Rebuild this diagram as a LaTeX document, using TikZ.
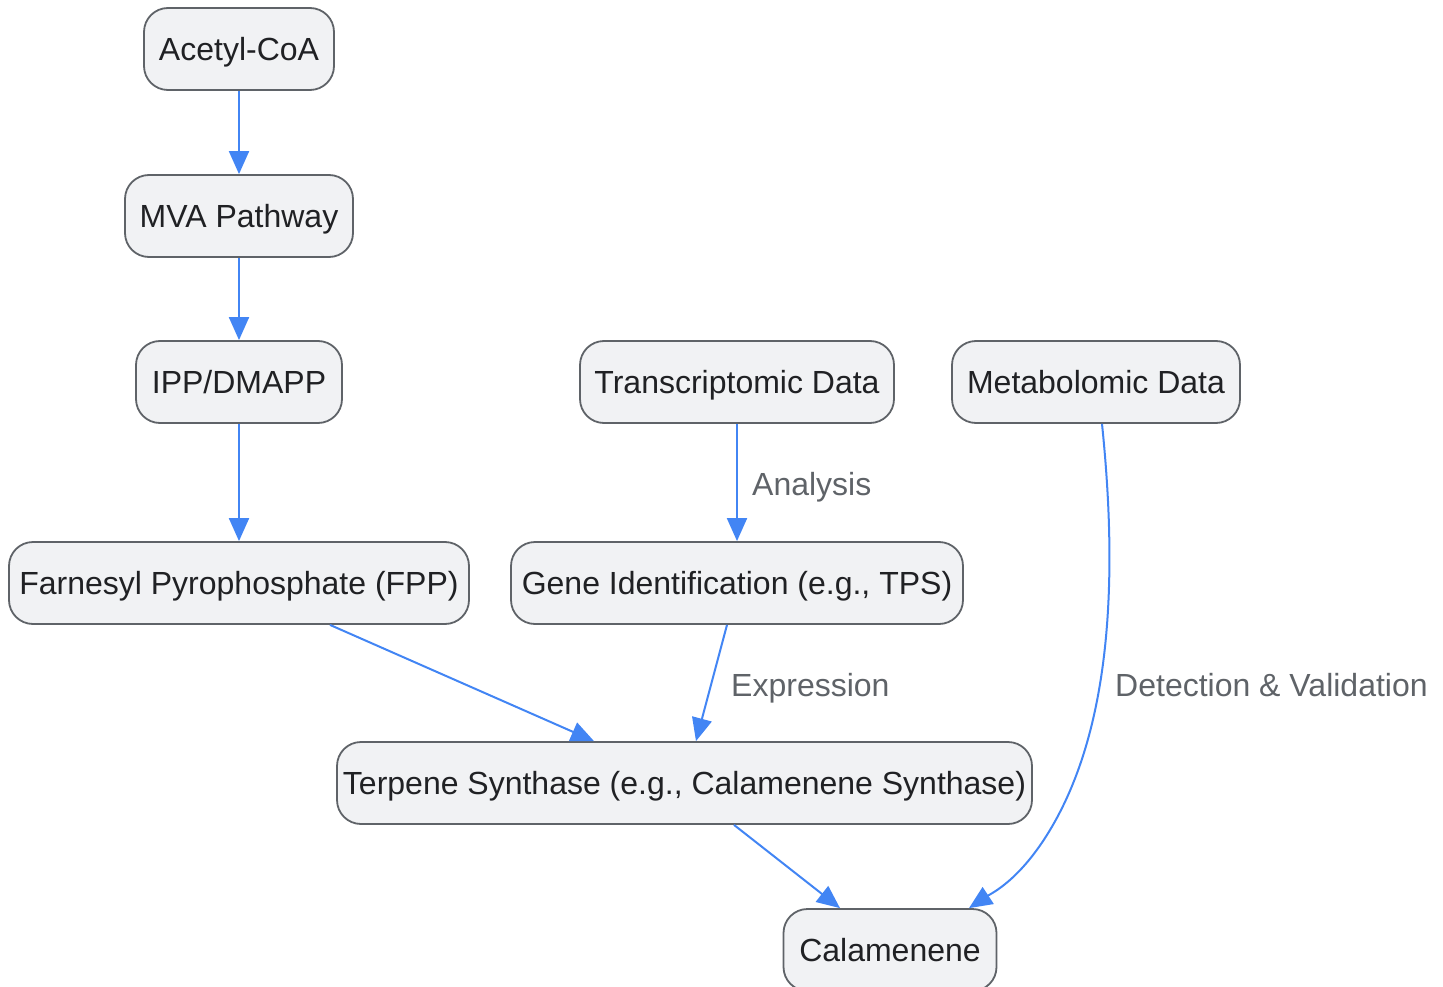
\documentclass[tikz,border=0pt]{standalone}
\usepackage{fontspec}
\setmainfont{Liberation Sans}
\usetikzlibrary{arrows.meta,calc}
\definecolor{nodefill}{HTML}{F1F2F4}
\definecolor{nodeline}{HTML}{5F6368}
\definecolor{txt}{HTML}{202124}
\definecolor{edgeblue}{HTML}{4285F4}
\definecolor{lblgray}{HTML}{5F6368}
\tikzset{
  box/.style={draw=nodeline, fill=nodefill, line width=1.8pt, rounded corners=24pt,
    minimum height=82pt, inner sep=0pt, text=txt, text height=30pt, text depth=7pt,
    font=\fontsize{32}{37}\selectfont},
  conn/.style={draw=edgeblue, line width=2pt, -{Triangle[length=23pt,width=20pt]}},
  lbl/.style={text=lblgray, font=\fontsize{32}{37}\selectfont, anchor=west, inner sep=0pt,
    text height=30pt, text depth=7pt}
}
\begin{document}
\begin{tikzpicture}[x=1pt,y=-1pt]
\useasboundingbox (0,0) rectangle (1443,987);
\node[box, minimum width=190pt] (acetyl) at (239,49) {Acetyl-CoA};
\node[box, minimum width=228pt] (mva) at (239,216) {MVA Pathway};
\node[box, minimum width=206pt] (ipp) at (239,382) {IPP/DMAPP};
\node[box, minimum width=460pt] (fpp) at (239,583) {Farnesyl Pyrophosphate (FPP)};
\node[box, minimum width=314pt] (trans) at (737,382) {Transcriptomic Data};
\node[box, minimum width=288pt] (meta) at (1096,382) {Metabolomic Data};
\node[box, minimum width=452pt] (gene) at (737,583) {Gene Identification (e.g., TPS)};
\node[box, minimum width=695pt] (tps) at (684.5,783) {Terpene Synthase (e.g., Calamenene Synthase)};
\node[box, minimum width=213pt] (cal) at (890,950) {Calamenene};

\draw[conn] (acetyl.south) -- (mva.north);
\draw[conn] (mva.south) -- (ipp.north);
\draw[conn] (ipp.south) -- (fpp.north);
\draw[conn] ($(fpp.south)+(91,0)$) -- ($(tps.north)+(-90.5,0)$);
\draw[conn] (trans.south) -- (gene.north);
\draw[conn] ($(gene.south)+(-10,0)$) -- ($(tps.north)+(11.5,0)$);
\draw[conn] ($(tps.south)+(49.5,0)$) -- ($(cal.north)+(-50,0)$);
\draw[conn] ($(meta.south)+(6,0)$) .. controls (1116,560) and (1116,720) .. (1050,830)
  .. controls (1020,880) and (992,893) .. ($(cal.north)+(79,0)$);

\node[lbl] (lanalysis) at (752,484) {Analysis};
\node[lbl] (lexpr) at (731,685) {Expression};
\node[lbl] (ldet) at (1115,685) {Detection \& Validation};
\end{tikzpicture}
\end{document}
